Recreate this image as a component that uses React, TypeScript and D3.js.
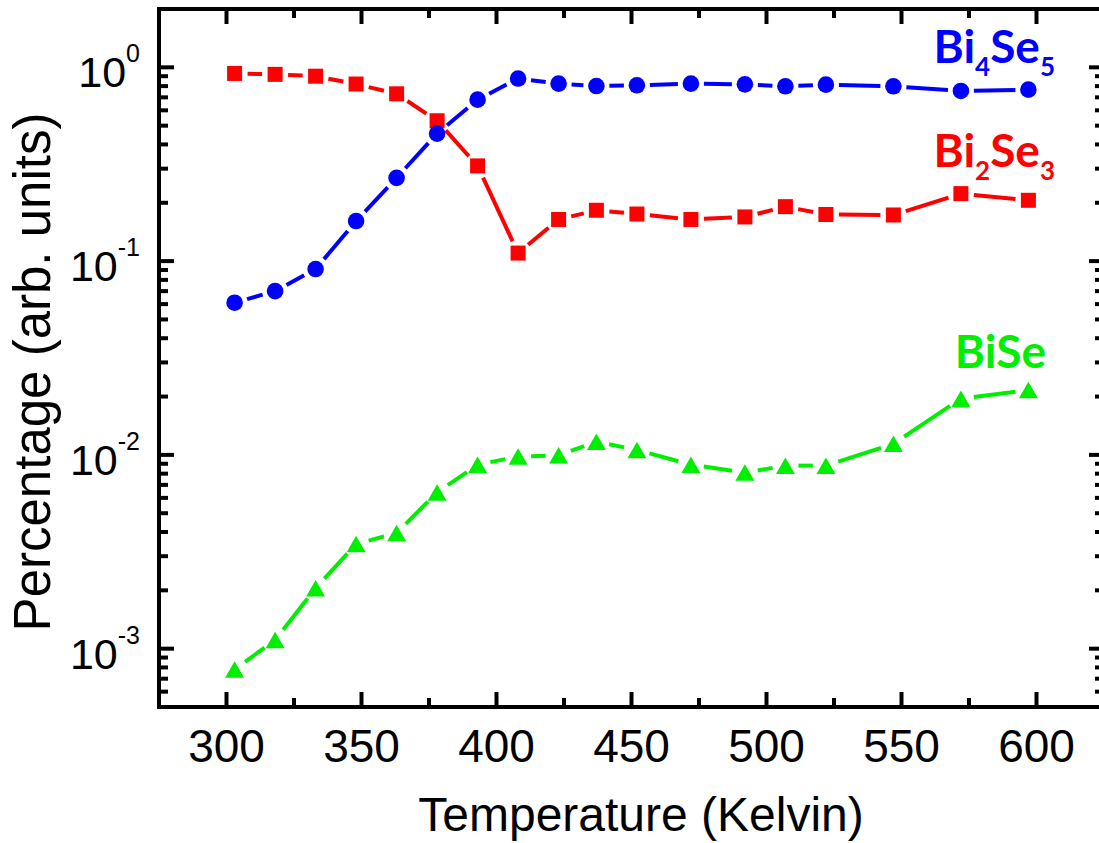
import React from "react";
import * as d3 from "d3";

// Temperature (K) for every measurement
const temperatures = [303, 318, 333, 348, 363, 378, 393, 408, 423, 437, 452, 472, 492, 507, 522, 547, 572, 597];

// Phase fractions (arb. units)
const bi2se3 = [0.93, 0.92, 0.9, 0.82, 0.73, 0.53, 0.31, 0.11, 0.164, 0.183, 0.175, 0.164, 0.169, 0.191, 0.174, 0.173, 0.223, 0.206];
const bi4se5 = [0.061, 0.07, 0.091, 0.161, 0.269, 0.455, 0.681, 0.875, 0.824, 0.801, 0.808, 0.824, 0.817, 0.798, 0.814, 0.798, 0.755, 0.767];
const bise = [0.00078, 0.00111, 0.00205, 0.00347, 0.00395, 0.0064, 0.0089, 0.0098, 0.00996, 0.0117, 0.0106, 0.0089, 0.0081, 0.0088, 0.0088, 0.0114, 0.0195, 0.0216];

const xMajorTicks = [300, 350, 400, 450, 500, 550, 600];
const xMinorTicks = [325, 375, 425, 475, 525, 575];
const yMajorExponents = [0, -1, -2, -3];

const W = 1099;
const H = 843;
const left = 159;
const right = 1104;
const top = 9;
const bottom = 707;

const x = d3.scaleLinear().domain([275, 625]).range([left, right]);
const y = d3.scaleLog().domain([5e-4, 2]).range([bottom, top]);

const yMinorTicks: number[] = [];
for (let e = -4; e <= 0; e++) {
  for (let m = 2; m <= 9; m++) {
    const v = m * Math.pow(10, e);
    if (v > 5e-4 && v < 2) yMinorTicks.push(v);
  }
}

type Marker = "square" | "circle" | "triangle";

interface Series {
  name: string;
  values: number[];
  color: string;
  marker: Marker;
}

const series: Series[] = [
  { name: "Bi2Se3", values: bi2se3, color: "#ff0000", marker: "square" },
  { name: "Bi4Se5", values: bi4se5, color: "#0000ff", marker: "circle" },
  { name: "BiSe", values: bise, color: "#00ee00", marker: "triangle" },
];

// distance kept clear between a line and the symbol it joins
const GAP = 13;

function segments(values: number[]) {
  const pts = values.map((v, i) => [x(temperatures[i]), y(v)] as [number, number]);
  const segs: [number, number, number, number][] = [];
  for (let i = 0; i < pts.length - 1; i++) {
    const [x1, y1] = pts[i];
    const [x2, y2] = pts[i + 1];
    const dx = x2 - x1;
    const dy = y2 - y1;
    const len = Math.hypot(dx, dy);
    if (len <= 2 * GAP) continue;
    const ux = dx / len;
    const uy = dy / len;
    segs.push([x1 + ux * GAP, y1 + uy * GAP, x2 - ux * GAP, y2 - uy * GAP]);
  }
  return segs;
}

function MarkerShape({ kind, cx, cy, color }: { kind: Marker; cx: number; cy: number; color: string }) {
  if (kind === "square") {
    return <rect x={cx - 7.5} y={cy - 7.5} width={15} height={15} fill={color} />;
  }
  if (kind === "circle") {
    return <circle cx={cx} cy={cy} r={8.3} fill={color} />;
  }
  const w = 19;
  const h = 16.5;
  return (
    <path
      d={`M${cx},${cy - h / 2}L${cx + w / 2},${cy + h / 2}L${cx - w / 2},${cy + h / 2}Z`}
      fill={color}
    />
  );
}

const MAJOR = 15;
const MINOR = 9;

function PhaseLabel({
  x0,
  y0,
  base,
  sub1,
  mid,
  sub2,
  color,
}: {
  x0: number;
  y0: number;
  base: string;
  sub1?: string;
  mid?: string;
  sub2?: string;
  color: string;
}) {
  return (
    <text
      x={x0}
      y={y0}
      textAnchor="end"
      fontFamily="Lato, 'Open Sans', sans-serif"
      fontWeight={700}
      fontSize={46}
      fill={color}
    >
      {base}
      {sub1 && (
        <tspan dy={13} fontSize={26}>
          {sub1}
        </tspan>
      )}
      {mid && <tspan dy={-13}>{mid}</tspan>}
      {sub2 && (
        <tspan dy={13} fontSize={26}>
          {sub2}
        </tspan>
      )}
    </text>
  );
}

export default function App() {
  const font = "Arial, 'Liberation Sans', sans-serif";
  return (
    <svg
      width={W}
      height={H}
      style={{ position: "absolute", left: 0, top: 0, display: "block", background: "#fff" }}
    >
      {/* data lines with gaps at the symbols */}
      {series.map((s) =>
        segments(s.values).map((sg, i) => (
          <line
            key={s.name + "l" + i}
            x1={sg[0]}
            y1={sg[1]}
            x2={sg[2]}
            y2={sg[3]}
            stroke={s.color}
            strokeWidth={4}
          />
        ))
      )}
      {series.map((s) =>
        s.values.map((v, i) => (
          <MarkerShape key={s.name + "m" + i} kind={s.marker} cx={x(temperatures[i])} cy={y(v)} color={s.color} />
        ))
      )}

      {/* frame */}
      <rect x={left} y={top} width={right - left} height={bottom - top} fill="none" stroke="#000" strokeWidth={4} />

      {/* x ticks, bottom and top, pointing inward */}
      {xMajorTicks.map((t) => (
        <g key={"xM" + t}>
          <line x1={x(t)} x2={x(t)} y1={bottom} y2={bottom - MAJOR} stroke="#000" strokeWidth={4} />
          <line x1={x(t)} x2={x(t)} y1={top} y2={top + MAJOR} stroke="#000" strokeWidth={4} />
          <text x={x(t)} y={762} textAnchor="middle" fontFamily={font} fontSize={46} fill="#000">
            {t}
          </text>
        </g>
      ))}
      {xMinorTicks.map((t) => (
        <g key={"xm" + t}>
          <line x1={x(t)} x2={x(t)} y1={bottom} y2={bottom - MINOR} stroke="#000" strokeWidth={4} />
          <line x1={x(t)} x2={x(t)} y1={top} y2={top + MINOR} stroke="#000" strokeWidth={4} />
        </g>
      ))}

      {/* y ticks, left and right, pointing inward */}
      {yMajorExponents.map((e) => {
        const yy = y(Math.pow(10, e));
        return (
          <g key={"yM" + e}>
            <line x1={left} x2={left + MAJOR} y1={yy} y2={yy} stroke="#000" strokeWidth={4} />
            <line x1={right} x2={right - MAJOR} y1={yy} y2={yy} stroke="#000" strokeWidth={4} />
            <text x={140} y={yy + 20} textAnchor="end" fontFamily={font} fontSize={43} fill="#000">
              <tspan>10</tspan>
              <tspan dy={-25} fontSize={25}>
                {String(e)}
              </tspan>
            </text>
          </g>
        );
      })}
      {yMinorTicks.map((v) => (
        <g key={"ym" + v}>
          <line x1={left} x2={left + MINOR} y1={y(v)} y2={y(v)} stroke="#000" strokeWidth={4} />
          <line x1={right} x2={right - MINOR} y1={y(v)} y2={y(v)} stroke="#000" strokeWidth={4} />
        </g>
      ))}

      {/* axis titles */}
      <text x={641} y={831} textAnchor="middle" fontFamily={font} fontSize={48} fill="#000">
        Temperature (Kelvin)
      </text>
      <text
        transform="translate(50,372) rotate(-90)"
        textAnchor="middle"
        fontFamily={font}
        fontSize={51}
        fill="#000"
      >
        Percentage (arb. units)
      </text>

      {/* phase labels */}
      <PhaseLabel x0={1055} y0={63} base="Bi" sub1="4" mid="Se" sub2="5" color="#0000ff" />
      <PhaseLabel x0={1055} y0={167} base="Bi" sub1="2" mid="Se" sub2="3" color="#ff0000" />
      <PhaseLabel x0={1046} y0={368} base="BiSe" color="#00ee00" />
    </svg>
  );
}
